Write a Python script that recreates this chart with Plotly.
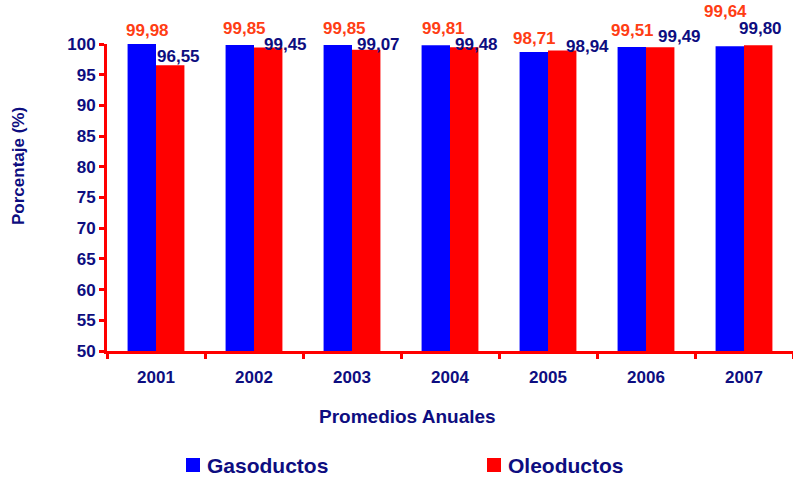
import plotly.graph_objects as go

years = ["2001", "2002", "2003", "2004", "2005", "2006", "2007"]
gasoductos = [99.98, 99.85, 99.85, 99.81, 98.71, 99.51, 99.64]
oleoductos = [96.55, 99.45, 99.07, 99.48, 98.94, 99.49, 99.80]
y_ticks = [50, 55, 60, 65, 70, 75, 80, 85, 90, 95, 100]

NAVY = "#0D0D80"
ORANGE = "#FF3D14"
BLUE = "#0000FF"
RED = "#FF0000"
FONT = "Liberation Sans"

W, H = 793, 478
L, R, T, B = 107, 0, 44, 127
pw, ph = W - L - R, H - T - B


def px(x):
    return (x - L) / pw


def py(y):
    return (H - B - y) / ph


def fmt(v):
    return f"{v:.2f}".replace(".", ",")


fig = go.Figure()
fig.add_trace(go.Bar(x=years, y=gasoductos, name="Gasoductos",
                     marker=dict(color=BLUE, line=dict(width=0)), showlegend=False))
fig.add_trace(go.Bar(x=years, y=oleoductos, name="Oleoductos",
                     marker=dict(color=RED, line=dict(width=0)), showlegend=False))

# label offsets (pixels) relative to category centre / bar top
g_dx = [-9, -10, -8, -7, -14, -13.5, -19]
g_dy = [2, 5, 5, 5, 2, 5, 23]
o_dx = [22.5, 31, 26, 26, 39.5, 33.5, 16.5]
o_dy = [-3, -8.5, -6, -9, -7.5, -1, 5]

annotations = []
for i, yr in enumerate(years):
    annotations.append(dict(x=i, y=gasoductos[i], xref="x", yref="y", text=f"<b>{fmt(gasoductos[i])}</b>",
                            showarrow=False, xanchor="center", yanchor="bottom",
                            xshift=g_dx[i], yshift=g_dy[i],
                            font=dict(family=FONT, size=17, color=ORANGE)))
    annotations.append(dict(x=i, y=oleoductos[i], xref="x", yref="y", text=f"<b>{fmt(oleoductos[i])}</b>",
                            showarrow=False, xanchor="center", yanchor="bottom",
                            xshift=o_dx[i], yshift=o_dy[i],
                            font=dict(family=FONT, size=17, color=NAVY)))

# axis titles
annotations.append(dict(x=px(18), y=py(166), xref="paper", yref="paper", text="<b>Porcentaje (%)</b>",
                        textangle=-90, showarrow=False, xanchor="center", yanchor="middle",
                        font=dict(family=FONT, size=17, color=NAVY)))
annotations.append(dict(x=px(407), y=py(416), xref="paper", yref="paper", text="<b>Promedios Anuales</b>",
                        showarrow=False, xanchor="center", yanchor="middle",
                        font=dict(family=FONT, size=19, color=NAVY)))

# legend
shapes = []
for name, color, x0 in [("Gasoductos", BLUE, 186), ("Oleoductos", RED, 487)]:
    shapes.append(dict(type="rect", xref="paper", yref="paper", x0=px(x0), x1=px(x0 + 14),
                       y0=py(472), y1=py(458), fillcolor=color, line=dict(width=0)))
    annotations.append(dict(x=px(x0 + 19), y=py(465), xref="paper", yref="paper",
                            text=f"<b>{name}</b>", showarrow=False, xanchor="left", yanchor="middle",
                            font=dict(family=FONT, size=21, color=NAVY)))

fig.update_layout(
    width=W, height=H,
    margin=dict(l=L, r=R, t=T, b=B, pad=0),
    paper_bgcolor="white", plot_bgcolor="white",
    barmode="group", bargap=0.42, bargroupgap=0,
    font=dict(family=FONT, color=NAVY),
    annotations=annotations, shapes=shapes,
    showlegend=False,
)
fig.update_xaxes(
    type="category", range=[-0.5, len(years) - 0.5],
    showline=True, linecolor=RED, linewidth=3,
    ticks="outside", tickson="boundaries", ticklen=5, tickwidth=3, tickcolor=RED,
    tickfont=dict(family=FONT, size=17, color=NAVY, weight="bold"),
    ticklabelstandoff=9,
    showgrid=False, zeroline=False,
)
fig.update_yaxes(
    range=[50, 100], tickvals=y_ticks,
    showline=True, linecolor=RED, linewidth=3,
    ticks="outside", ticklen=5, tickwidth=3, tickcolor=RED,
    tickfont=dict(family=FONT, size=17, color=NAVY, weight="bold"),
    showgrid=False, zeroline=False,
)

fig.write_html("out.html", config={"displayModeBar": False},
               post_script="document.body.style.margin='0';")
